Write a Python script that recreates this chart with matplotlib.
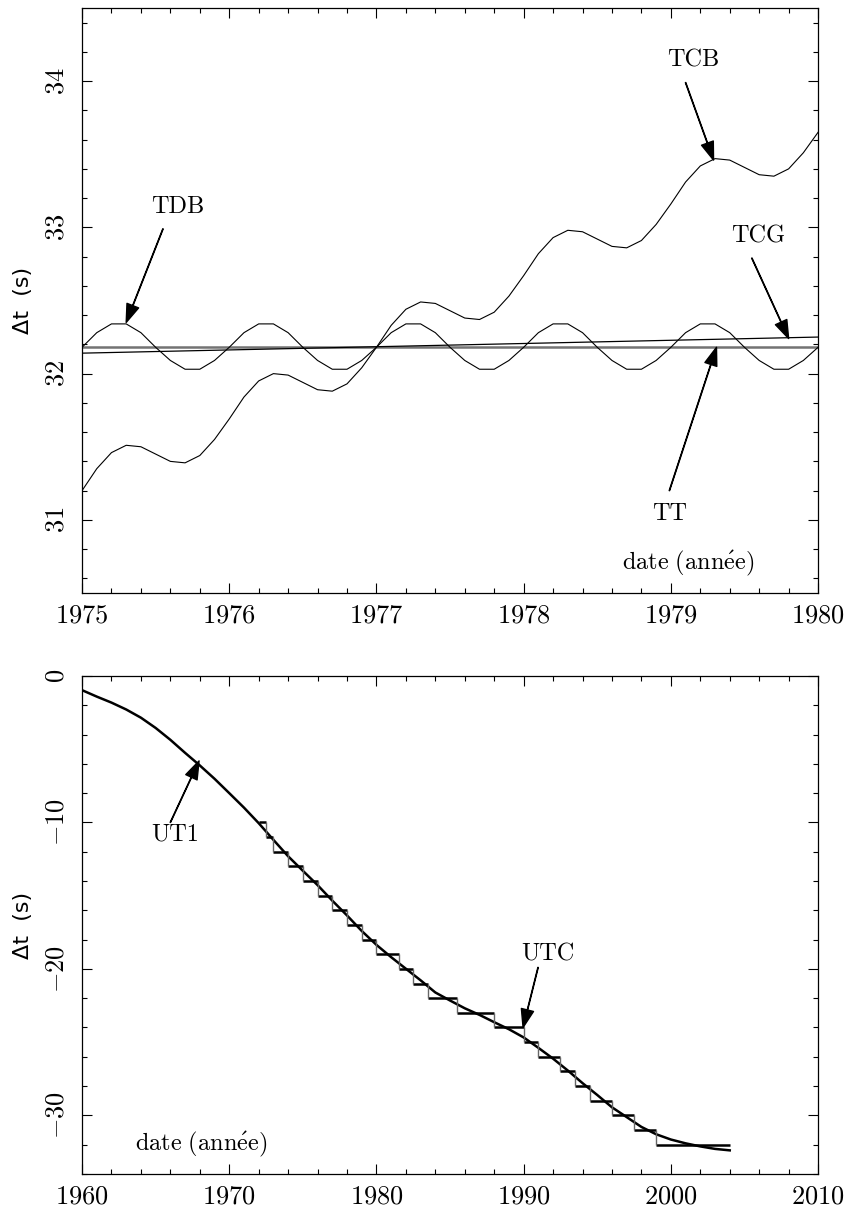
import numpy as np
import matplotlib
matplotlib.use('Agg')
import matplotlib.pyplot as plt
from matplotlib.ticker import MultipleLocator

plt.rcParams['font.family'] = 'serif'
plt.rcParams['font.serif'] = ['cmr10']
plt.rcParams['mathtext.fontset'] = 'cm'
plt.rcParams['axes.formatter.use_mathtext'] = True

# ---------------- data, top panel (1975-1980) ----------------
t_top = np.round(np.arange(1975.0, 1980.05, 0.1), 1)

tdb = [32.18, 32.28, 32.34, 32.34, 32.28, 32.18, 32.09, 32.03, 32.03, 32.09,
       32.18, 32.28, 32.34, 32.34, 32.28, 32.18, 32.09, 32.03, 32.03, 32.09,
       32.18, 32.28, 32.34, 32.34, 32.28, 32.18, 32.09, 32.03, 32.03, 32.09,
       32.18, 32.28, 32.34, 32.34, 32.28, 32.18, 32.09, 32.03, 32.03, 32.09,
       32.18, 32.28, 32.34, 32.34, 32.28, 32.18, 32.09, 32.03, 32.03, 32.09,
       32.18]

tcb = [31.20, 31.35, 31.46, 31.51, 31.50, 31.45, 31.40, 31.39, 31.44, 31.55,
       31.69, 31.84, 31.95, 32.00, 31.99, 31.94, 31.89, 31.88, 31.93, 32.04,
       32.18, 32.33, 32.44, 32.49, 32.48, 32.43, 32.38, 32.37, 32.42, 32.53,
       32.67, 32.82, 32.93, 32.98, 32.97, 32.92, 32.87, 32.86, 32.91, 33.02,
       33.16, 33.31, 33.42, 33.47, 33.46, 33.41, 33.36, 33.35, 33.40, 33.51,
       33.65]

t_lin = [1975.0, 1980.0]
tcg = [32.14, 32.25]
tt = [32.18, 32.18]

# ---------------- data, bottom panel (1960-2004) ----------------
t_ut1 = np.arange(1960, 2005)
ut1 = [-0.97, -1.41, -1.82, -2.29, -2.85, -3.55, -4.36, -5.25, -6.11, -7.02,
       -8.00, -8.99, -10.05, -11.19, -12.31, -13.30, -14.28, -15.34, -16.35, -17.41,
       -18.36, -19.20, -19.99, -20.78, -21.61, -22.16, -22.69, -23.14, -23.64, -24.12,
       -24.68, -25.39, -26.13, -26.94, -27.80, -28.61, -29.45, -30.12, -30.79, -31.29,
       -31.65, -31.91, -32.12, -32.29, -32.39]

leap_dates = [1972.0, 1972.5, 1973.0, 1974.0, 1975.0, 1976.0, 1977.0, 1978.0,
              1979.0, 1980.0, 1981.5, 1982.5, 1983.5, 1985.5, 1988.0, 1990.0,
              1991.0, 1992.5, 1993.5, 1994.5, 1996.0, 1997.5, 1999.0]
utc = [-10, -11, -12, -13, -14, -15, -16, -17, -18, -19, -20, -21, -22, -23,
       -24, -25, -26, -27, -28, -29, -30, -31, -32]
utc_end = 2004.0

fig = plt.figure(figsize=(8.51, 12.09), dpi=100)
ax1 = fig.add_axes([0.0964, 0.5095, 0.8649, 0.4839])
ax2 = fig.add_axes([0.0964, 0.0290, 0.8649, 0.4119])

arrow = dict(facecolor='black', edgecolor='black', width=0.3, headwidth=9,
             headlength=13, shrink=0)
ann_fs = 17.5


def style_axes(ax):
    ax.tick_params(which='both', direction='in', top=True, right=True)
    ax.tick_params(which='major', length=7.5, width=0.8)
    ax.tick_params(which='minor', length=3.8, width=0.8)
    ax.tick_params(axis='x', labelsize=19, pad=8)
    ax.tick_params(axis='y', labelsize=19, pad=10, labelrotation=90)
    for lab in ax.get_yticklabels():
        lab.set_va('center')
    for s in ax.spines.values():
        s.set_linewidth(0.9)
    ax.set_ylabel('Δt  (s)', family='DejaVu Sans', fontsize=16)
    ax.yaxis.set_label_coords(-0.066, 0.5)


# ---- top panel
ax1.plot(t_lin, tt, color='0.45', lw=1.8)
ax1.plot(t_lin, tcg, color='black', lw=0.9)
ax1.plot(t_top, tdb, color='black', lw=0.8)
ax1.plot(t_top, tcb, color='black', lw=0.8)
ax1.set_xlim(1975, 1980)
ax1.set_ylim(30.5, 34.5)
ax1.xaxis.set_major_locator(MultipleLocator(1))
ax1.xaxis.set_minor_locator(MultipleLocator(0.2))
ax1.yaxis.set_major_locator(MultipleLocator(1))
ax1.yaxis.set_minor_locator(MultipleLocator(0.2))
style_axes(ax1)

ax1.text(1975.65, 33.14, 'TDB', ha='center', va='center', fontsize=ann_fs)
ax1.annotate('', xy=(1975.30, 32.35), xytext=(1975.55, 32.99), arrowprops=arrow)
ax1.text(1979.15, 34.14, 'TCB', ha='center', va='center', fontsize=ann_fs)
ax1.annotate('', xy=(1979.29, 33.46), xytext=(1979.10, 33.99), arrowprops=arrow)
ax1.text(1979.59, 32.94, 'TCG', ha='center', va='center', fontsize=ann_fs)
ax1.annotate('', xy=(1979.80, 32.24), xytext=(1979.55, 32.79), arrowprops=arrow)
ax1.text(1978.99, 31.04, 'TT', ha='center', va='center', fontsize=ann_fs)
ax1.annotate('', xy=(1979.31, 32.18), xytext=(1978.99, 31.20), arrowprops=arrow)
ax1.text(1979.12, 30.70, r'$\mathrm{date\ (ann\acute{e}e)}$', ha='center',
         va='center', fontsize=ann_fs)

# ---- bottom panel
ax2.plot(t_ut1, ut1, color='black', lw=1.8)
ends = leap_dates[1:] + [utc_end]
ax2.hlines(utc, leap_dates, ends, color='black', lw=1.8)
ax2.vlines(leap_dates[1:], utc[:-1], utc[1:], color='0.4', lw=1.0)
ax2.set_xlim(1960, 2010)
ax2.set_ylim(-34, 0)
ax2.xaxis.set_major_locator(MultipleLocator(10))
ax2.xaxis.set_minor_locator(MultipleLocator(2))
ax2.yaxis.set_major_locator(MultipleLocator(10))
ax2.yaxis.set_minor_locator(MultipleLocator(2))
style_axes(ax2)

ax2.text(1966.3, -10.8, 'UT1', ha='center', va='center', fontsize=ann_fs)
ax2.annotate('', xy=(1967.95, -5.8), xytext=(1966.0, -10.0), arrowprops=arrow)
ax2.text(1991.66, -19.0, 'UTC', ha='center', va='center', fontsize=ann_fs)
ax2.annotate('', xy=(1989.96, -24.0), xytext=(1990.98, -19.9), arrowprops=arrow)
ax2.text(1968.1, -32.0, r'$\mathrm{date\ (ann\acute{e}e)}$', ha='center',
         va='center', fontsize=ann_fs)

fig.savefig('out.png', dpi=100)
